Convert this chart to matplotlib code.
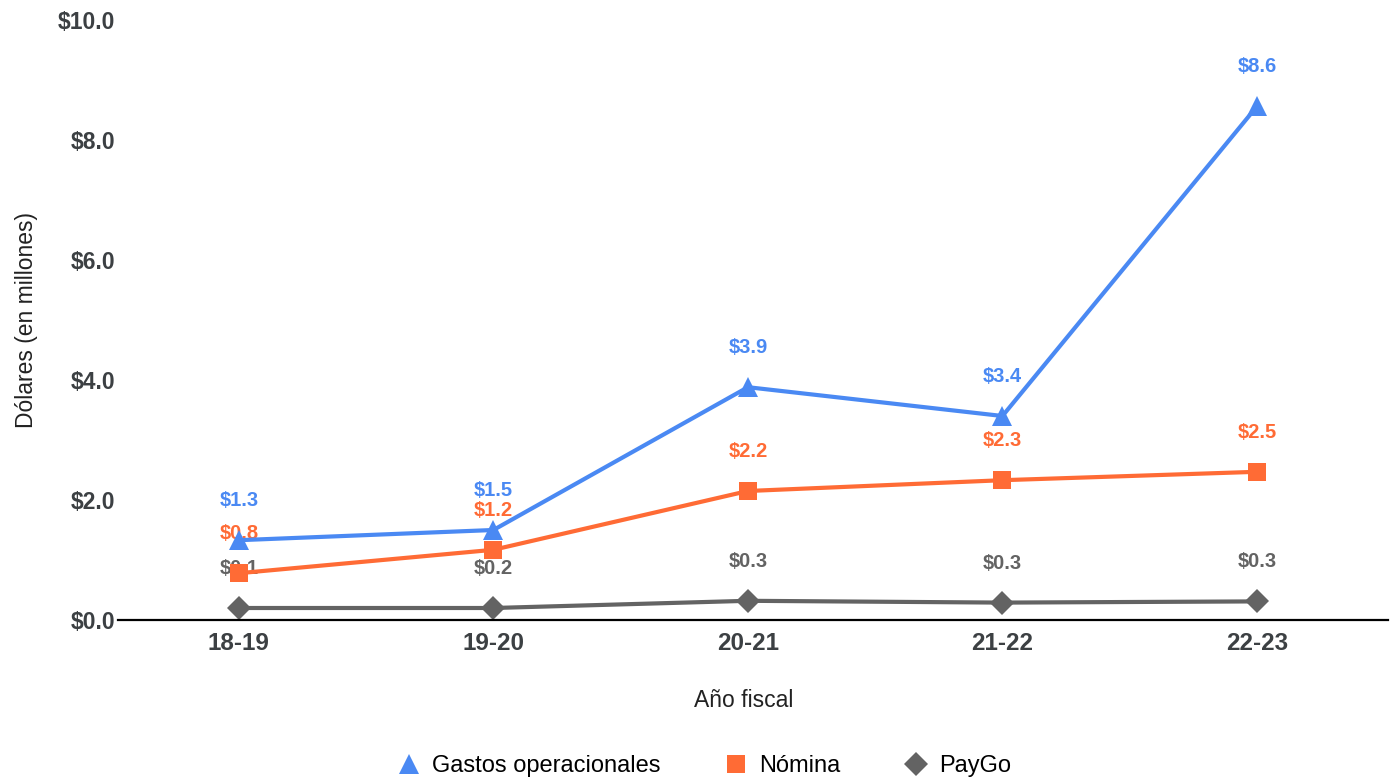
import matplotlib
matplotlib.use("Agg")
import matplotlib.pyplot as plt
from matplotlib.lines import Line2D

plt.rcParams['font.family'] = ['Liberation Sans', 'DejaVu Sans']

years = ["18-19", "19-20", "20-21", "21-22", "22-23"]
gastos = [1.33, 1.50, 3.88, 3.40, 8.56]
nomina = [0.78, 1.17, 2.15, 2.33, 2.47]
paygo = [0.20, 0.20, 0.32, 0.29, 0.31]
gastos_labels = ["$1.3", "$1.5", "$3.9", "$3.4", "$8.6"]
nomina_labels = ["$0.8", "$1.2", "$2.2", "$2.3", "$2.5"]
paygo_labels = ["$0.1", "$0.2", "$0.3", "$0.3", "$0.3"]
yticks = [0, 2, 4, 6, 8, 10]

c_blue = "#4a89f3"
c_orange = "#ff6b35"
c_gray = "#636363"
c_tick = "#3c4043"

fig = plt.figure(figsize=(13.92, 7.8), dpi=100)
ax = fig.add_axes([118/1392, 1-620/780, (1388-118)/1392, 600/780])
x = list(range(len(years)))

series = [
    (gastos, gastos_labels, c_blue, "^", 15, "Gastos operacionales"),
    (nomina, nomina_labels, c_orange, "s", 13, "Nómina"),
    (paygo, paygo_labels, c_gray, "D", 12, "PayGo"),
]
for i, (vals, labs, col, mk, ms, name) in enumerate(series):
    ax.plot(x, vals, color=col, lw=3.0, marker=mk, markersize=ms,
            markeredgewidth=0, zorder=3 + i * 0.1)
    for xi, v, lab in zip(x, vals, labs):
        ax.annotate(lab, (xi, v), xytext=(0, 28.5), textcoords="offset points",
                    ha="center", va="center", fontsize=14.5, fontweight="bold",
                    color=col, zorder=2)

ax.set_xlim(-0.475, 4.515)
ax.set_ylim(0, 10)
ax.set_yticks(yticks)
ax.set_yticklabels([f"${t:.1f}" for t in yticks])
ax.set_xticks(x)
ax.set_xticklabels(years)
for lbl in ax.get_yticklabels() + ax.get_xticklabels():
    lbl.set_fontweight("bold")
    lbl.set_color(c_tick)
    lbl.set_fontsize(16.5)
for lbl in ax.get_xticklabels():
    lbl.set_fontsize(17.5)
ax.tick_params(axis="both", length=0)
ax.tick_params(axis="y", pad=2)
ax.tick_params(axis="x", pad=9)
for s in ["left", "right", "top"]:
    ax.spines[s].set_visible(False)
ax.spines["bottom"].set_color("black")
ax.spines["bottom"].set_linewidth(1.6)
ax.spines["bottom"].set_zorder(5)

ax.set_ylabel("Dólares (en millones)", fontsize=16.5, color="#222222", labelpad=14)
ax.set_xlabel("Año fiscal", fontsize=16.5, color="#222222")
ax.xaxis.set_label_coords((744 - 118) / 1270, (620 - 689) / 600)

handles = [Line2D([], [], color=c, marker=m, markersize=ms, lw=0, markeredgewidth=0)
           for (_, _, c, m, ms, _) in series]
names = [s[5] for s in series]
fig.legend(handles, names, loc="center", bbox_to_anchor=(0.506, 1-766/780),
           ncol=3, frameon=False, fontsize=17, handletextpad=0.47,
           columnspacing=2.7, handlelength=1.0)

fig.savefig("out.png", dpi=100)
